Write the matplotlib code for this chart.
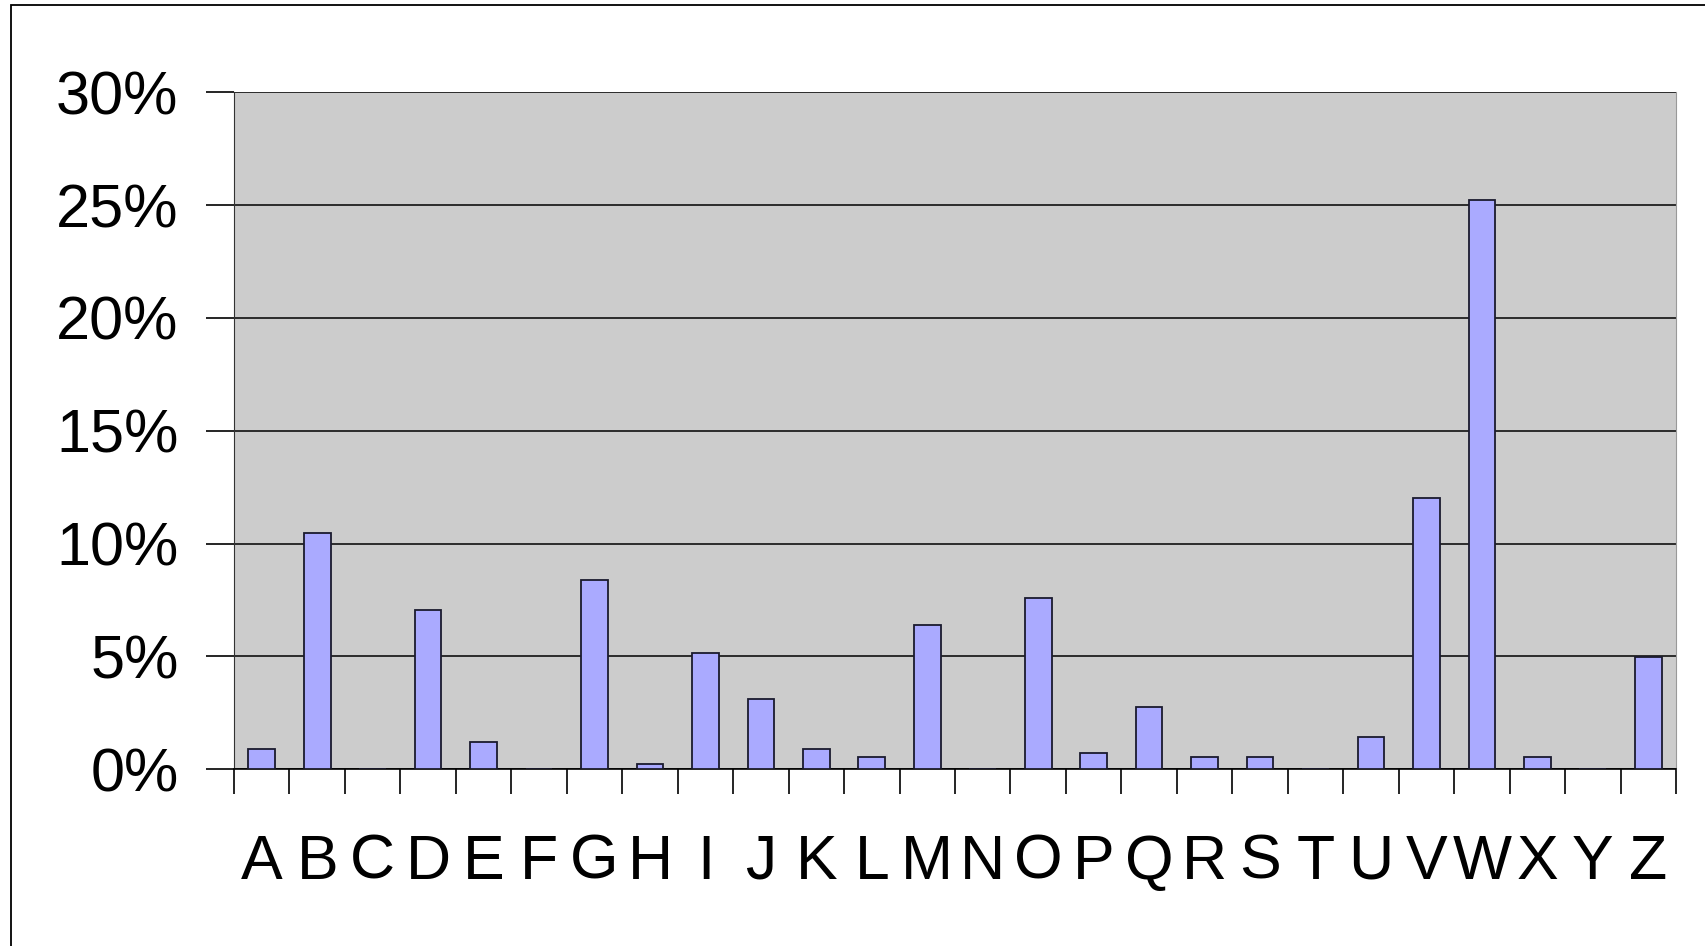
import matplotlib
matplotlib.use("Agg")
import matplotlib.pyplot as plt
import numpy as np
from matplotlib.patches import Rectangle
from matplotlib.ticker import FixedLocator

categories = list("ABCDEFGHIJKLMNOPQRSTUVWXYZ")
values = [0.87, 10.47, 0.0, 7.04, 1.2, 0.0, 8.39, 0.2, 5.16, 3.09, 0.87, 0.53, 6.37,
          0.0, 7.57, 0.72, 2.75, 0.53, 0.53, 0.0, 1.4, 12.01, 25.23, 0.53, 0.0, 4.97]
yticks = [0, 5, 10, 15, 20, 25, 30]
ytick_labels = ["0%", "5%", "10%", "15%", "20%", "25%", "30%"]

plt.rcParams['font.family'] = ['Liberation Sans', 'DejaVu Sans']

fig = plt.figure(figsize=(17.06, 9.46), dpi=100)
fig.patch.set_facecolor("white")
ax = fig.add_axes([234/1706, 1-769/946, (1676-234)/1706, (769-92.5)/946])
ax.set_facecolor("#CCCCCC")

x = np.arange(len(categories))
ax.bar(x, values, width=0.48, color="#AAAAFF", edgecolor="#1a1a2e", linewidth=1.3, zorder=3)

ax.set_xlim(-0.5, len(categories) - 0.5)
ax.set_ylim(0, 30)
ax.set_yticks(yticks)
ax.set_yticklabels(ytick_labels, fontsize=44)
ax.yaxis.grid(True, color="black", linewidth=1.1, zorder=1)
ax.set_axisbelow(True)

ax.set_xticks(x)
ax.set_xticklabels(categories, fontsize=45)
ax.tick_params(axis="x", which="major", length=0, pad=46)
ax.xaxis.set_minor_locator(FixedLocator(np.arange(-0.5, len(categories), 1.0)))
ax.tick_params(axis="x", which="minor", length=18, width=1.2, color="black")
ax.tick_params(axis="y", which="major", length=20, width=1.2, color="black", pad=20)

ax.spines["top"].set_visible(False)
ax.spines["right"].set_color("#999999")
ax.spines["left"].set_color("#333333")
ax.spines["bottom"].set_color("black")
ax.spines["bottom"].set_linewidth(1.2)

fig.patches.append(Rectangle((11/1706, -0.1), 1.2, 1 - 5/946 + 0.1, transform=fig.transFigure,
                             fill=False, edgecolor="black", linewidth=1.3))

fig.savefig("out.png", dpi=100)
